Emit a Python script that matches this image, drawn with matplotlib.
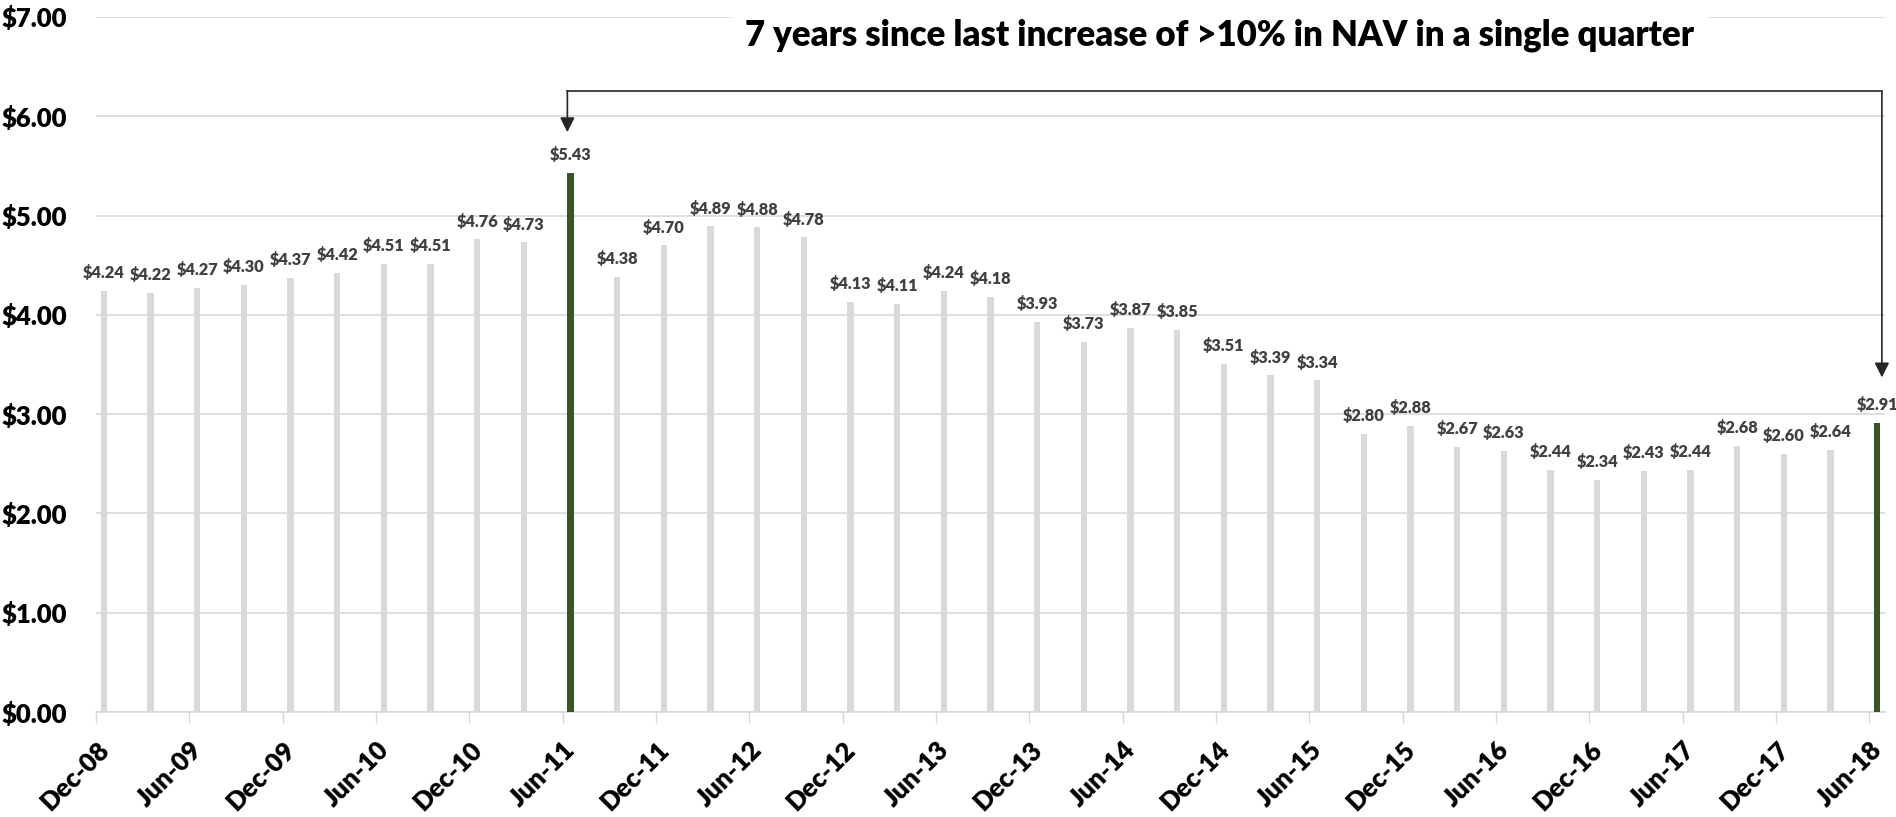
import matplotlib
matplotlib.use("Agg")
import matplotlib.pyplot as plt
import numpy as np

# Quarterly NAV per share, Dec-08 .. Jun-18
quarters = [
    "Dec-08", "Mar-09", "Jun-09", "Sep-09", "Dec-09", "Mar-10", "Jun-10", "Sep-10",
    "Dec-10", "Mar-11", "Jun-11", "Sep-11", "Dec-11", "Mar-12", "Jun-12", "Sep-12",
    "Dec-12", "Mar-13", "Jun-13", "Sep-13", "Dec-13", "Mar-14", "Jun-14", "Sep-14",
    "Dec-14", "Mar-15", "Jun-15", "Sep-15", "Dec-15", "Mar-16", "Jun-16", "Sep-16",
    "Dec-16", "Mar-17", "Jun-17", "Sep-17", "Dec-17", "Mar-18", "Jun-18",
]
nav = [
    4.24, 4.22, 4.27, 4.30, 4.37, 4.42, 4.51, 4.51, 4.76, 4.73,
    5.43, 4.38, 4.70, 4.89, 4.88, 4.78, 4.13, 4.11, 4.24, 4.18,
    3.93, 3.73, 3.87, 3.85, 3.51, 3.39, 3.34, 2.80, 2.88, 2.67,
    2.63, 2.44, 2.34, 2.43, 2.44, 2.68, 2.60, 2.64, 2.91,
]
highlight = ["Jun-11", "Jun-18"]
yticks = [0, 1, 2, 3, 4, 5, 6, 7]

title = "7 years since last increase of >10% in NAV in a single quarter"

COLOR_BAR = "#D9D9D9"
COLOR_HI = "#375623"
COLOR_GRID = "#D9D9D9"
COLOR_LABEL = "#404040"
COLOR_ARROW = "#262626"

plt.rcParams["font.family"] = ["Lato", "DejaVu Sans"]
plt.rcParams["font.weight"] = "heavy"

# date axis in months from Dec-08; each bar sits in the middle of its month slot
months = np.arange(len(quarters)) * 3 + 0.5
colors = [COLOR_HI if q in highlight else COLOR_BAR for q in quarters]

fig = plt.figure(figsize=(18.96, 8.17), dpi=100)
ax = fig.add_axes([96 / 1896, 105 / 817, 1789 / 1896, 695 / 817])

ax.bar(months, nav, width=0.42, color=colors, zorder=3)

for m, v in zip(months, nav):
    ax.annotate(f"${v:.2f}", (m, v), xytext=(0, 7), textcoords="offset points",
                ha="center", va="bottom", fontsize=11.8, fontweight="heavy",
                color=COLOR_LABEL, zorder=5)

ax.set_xlim(0, 115)
ax.set_ylim(0, 7)
ax.set_yticks(yticks)
ax.set_yticklabels([f"${t:.2f}" for t in yticks], fontsize=18.5, fontweight="heavy")
ax.tick_params(axis="y", length=0, pad=21)

tick_pos = np.arange(0, len(quarters), 2) * 3
ax.set_xticks(tick_pos)
ax.set_xticklabels(quarters[::2], rotation=45, ha="right", rotation_mode="anchor",
                   fontsize=18.5, fontweight="heavy")
ax.tick_params(axis="x", length=8, width=1, color=COLOR_GRID, pad=10)

ax.grid(axis="y", color=COLOR_GRID, linewidth=1.2, zorder=0)
ax.set_axisbelow(True)
for side in ["top", "right", "left"]:
    ax.spines[side].set_visible(False)
ax.spines["bottom"].set_color(COLOR_GRID)
ax.spines["bottom"].set_linewidth(1.2)

# elbow connector between the two highlighted quarters
i0, i1 = quarters.index(highlight[0]), quarters.index(highlight[1])
x0, x1 = months[i0] - 0.2, months[i1] + 0.3
top = 6.25
tip0, tip1 = nav[i0] + 0.41, nav[i1] + 0.46
ax.plot([x0, x1], [top, top], color=COLOR_ARROW, lw=1.2, zorder=4, clip_on=False)
for x, tip in [(x0, tip0), (x1, tip1)]:
    ax.annotate("", xy=(x, tip), xytext=(x, top),
                arrowprops=dict(arrowstyle="-|>", color=COLOR_ARROW, lw=1.2,
                                mutation_scale=22, shrinkA=0, shrinkB=0),
                zorder=4, annotation_clip=False)

ax.text(0.628, 0.974, title, transform=ax.transAxes, ha="center", va="center",
        fontsize=25, fontweight="heavy", color="black", zorder=6,
        bbox=dict(facecolor="white", edgecolor="none", pad=10))

fig.savefig("out.png", dpi=100)
